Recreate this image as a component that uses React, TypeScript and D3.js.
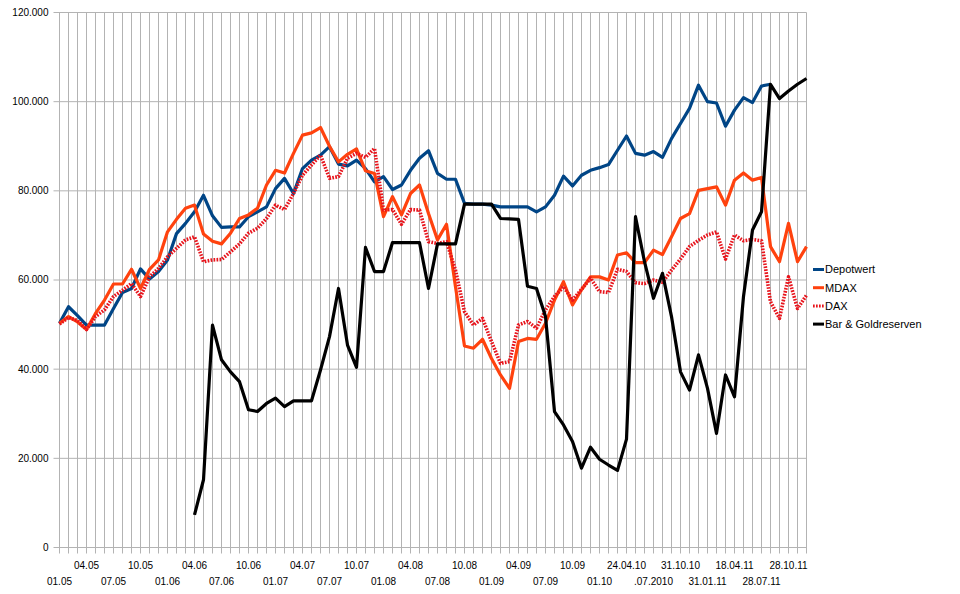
import React, { useRef, useEffect } from 'react';
import * as d3 from 'd3';

// every third category carries a label
const tickLabels = [
  "01.05", "04.05", "07.05", "10.05", "01.06", "04.06", "07.06", "10.06",
  "01.07", "04.07", "07.07", "10.07", "01.08", "04.08", "07.08", "10.08",
  "01.09", "04.09", "07.09", "10.09", "01.10", "24.04.10", ".07.2010", "31.10.10",
  "31.01.11", "18.04.11", "28.07.11", "28.10.11",
];

const yTicks = [0, 20000, 40000, 60000, 80000, 100000, 120000];

const depotwert = [
  50300, 54000, 52000, 49900, 49900, 49900, 53600, 57200, 58100, 62500,
  60200, 61900, 64500, 70400, 72700, 75300, 79000, 74400, 71800, 71900,
  71900, 74200, 75300, 76400, 80500, 82800, 79400, 85000, 86900, 88000,
  89900, 86000, 85600, 86900, 85000, 82000, 83200, 80300, 81300, 84600,
  87300, 89000, 83900, 82600, 82600, 77200, 77000, 77000, 76800, 76400,
  76400, 76400, 76400, 75300, 76400, 79000, 83300, 81100, 83500, 84600,
  85200, 85900, 89100, 92300, 88400, 88000, 88800, 87500, 91700, 95100,
  98500, 103700, 100000, 99700, 94500, 98100, 100900, 99800, 103500, 103900,
];

const mdax = [
  50300, 51800, 50600, 48900, 52500, 55500, 59100, 59100, 62400, 58100,
  62400, 64500, 70800, 73600, 76100, 76800, 70300, 68700, 68100, 70500,
  73800, 74600, 76100, 81300, 84600, 84000, 88400, 92500, 93000, 94200,
  90000, 86500, 88200, 89400, 84500, 83900, 74200, 78700, 74600, 79400,
  81300, 74900, 69000, 72500, 58500, 45200, 44700, 46700, 42400, 38700,
  35700, 46200, 46900, 46700, 50300, 55500, 59600, 54400, 57800, 60700,
  60700, 60000, 65600, 66100, 63900, 63900, 66700, 65700, 69700, 73800,
  74900, 80100, 80500, 80900, 76800, 82400, 84000, 82400, 83000, 67500,
  64100, 72700, 64100, 67500,
];

const dax = [
  50100, 51600, 50900, 48900, 51800, 53300, 56300, 57700, 59200, 56300,
  60700, 62600, 65200, 67100, 69000, 69700, 64100, 64500, 64600, 66300,
  68100, 70500, 71600, 73800, 76800, 75800, 79400, 83500, 85800, 88000,
  82800, 83200, 87300, 88400, 87500, 89500, 75700, 75800, 72500, 75800,
  75700, 68600, 68200, 68600, 62200, 52900, 49900, 51400, 46200, 41300,
  41700, 49900, 50700, 49200, 53300, 56300, 58500, 55500, 57900, 60400,
  57400, 57200, 62400, 61900, 59400, 59200, 60000, 59500, 62200, 64700,
  67500, 68900, 70100, 70800, 64700, 70100, 68800, 69100, 68800, 55100,
  51400, 60700, 53600, 56600,
];

const barGold: (number | null)[] = [
  null, null, null, null, null, null, null, null, null, null,
  null, null, null, null, null, 7300, 15200, 49900, 42100, 39400,
  37200, 30900, 30500, 32300, 33500, 31600, 32900, 32900, 32900, 39800,
  47300, 58100, 45400, 40400, 67300, 61900, 61900, 68400, 68400, 68400,
  68400, 58100, 68100, 68100, 68100, 77000, 77000, 77000, 77000, 73800,
  73700, 73600, 58600, 58100, 51800, 30500, 27500, 23800, 17800, 22500,
  19800, 18500, 17300, 24300, 74200, 64100, 55900, 61500, 51800, 39400,
  35300, 43200, 35700, 25600, 38700, 33800, 56300, 71200, 75300, 103900,
  100700, 102400, 103900, 105200,
];

const seriesNames = ["Depotwert", "MDAX", "DAX", "Bar & Goldreserven"];
const seriesColors = ["#004586", "#ff420e", "#e8141c", "#000000"];

const FONT = "'Liberation Sans', Arial, sans-serif";

const App: React.FC = () => {
  const svgRef = useRef<SVGSVGElement>(null);

  useEffect(() => {
    if (!svgRef.current) return;
    const svg = d3.select(svgRef.current);
    svg.selectAll("*").remove();

    const categories = mdax.map((_, i) => i);
    const left = 59.5, right = 806.5, top = 12.5, bottom = 547.5;

    const x = d3.scalePoint<number>().domain(categories).range([left, right]);
    const y = d3.scaleLinear().domain([0, 120000]).range([bottom, top]);

    const de = d3.formatLocale({ decimal: ",", thousands: ".", grouping: [3], currency: ["", "€"] });
    const fmt = de.format(",");

    // grid
    const grid = svg.append("g").attr("stroke", "#b3b3b3").attr("stroke-width", 1);
    grid.selectAll("line.v")
      .data(categories)
      .enter()
      .append("line")
      .attr("x1", d => x(d)!)
      .attr("x2", d => x(d)!)
      .attr("y1", top)
      .attr("y2", bottom + 6);
    grid.selectAll("line.h")
      .data(yTicks)
      .enter()
      .append("line")
      .attr("x1", left - 6)
      .attr("x2", right)
      .attr("y1", d => y(d))
      .attr("y2", d => y(d));

    // y labels
    svg.append("g")
      .selectAll("text")
      .data(yTicks)
      .enter()
      .append("text")
      .attr("x", 48.5)
      .attr("y", d => y(d))
      .attr("dy", "0.34em")
      .attr("text-anchor", "end")
      .attr("font-family", FONT)
      .attr("font-size", 10)
      .text(d => fmt(d));

    // x labels, staggered on two rows
    svg.append("g")
      .selectAll("text")
      .data(tickLabels)
      .enter()
      .append("text")
      .attr("x", (_, i) => x(i * 3)!)
      .attr("y", (_, i) => (i % 2 === 0 ? 584.5 : 569))
      .attr("text-anchor", "middle")
      .attr("font-family", FONT)
      .attr("font-size", 10)
      .text(d => d);

    // lines
    const line = d3.line<number | null>()
      .defined(d => d != null)
      .x((_, i) => x(i)!)
      .y(d => y(d as number));

    const allSeries: (number | null)[][] = [depotwert, mdax, dax, barGold];
    allSeries.forEach((s, k) => {
      svg.append("path")
        .datum(s)
        .attr("fill", "none")
        .attr("stroke", seriesColors[k])
        .attr("stroke-width", k === 2 ? 3.6 : 3.2)
        .attr("stroke-linejoin", "round")
        .attr("stroke-dasharray", k === 2 ? "1.7,1.3" : null)
        .attr("d", line);
    });

    // legend
    const legend = svg.append("g").attr("transform", "translate(813,269.5)");
    seriesNames.forEach((name, k) => {
      const row = legend.append("g").attr("transform", `translate(0,${k * 18.2})`);
      row.append("line")
        .attr("x1", 0)
        .attr("x2", 11)
        .attr("stroke", seriesColors[k])
        .attr("stroke-width", 3)
        .attr("stroke-dasharray", k === 2 ? "1.7,1.3" : null);
      row.append("text")
        .attr("x", 12)
        .attr("dy", "0.35em")
        .attr("font-family", FONT)
        .attr("font-size", 11)
        .text(name);
    });
  }, []);

  return (
    <svg
      ref={svgRef}
      width={960}
      height={594}
      style={{ position: "absolute", left: 0, top: 0, background: "#fff" }}
    />
  );
};

export default App;
